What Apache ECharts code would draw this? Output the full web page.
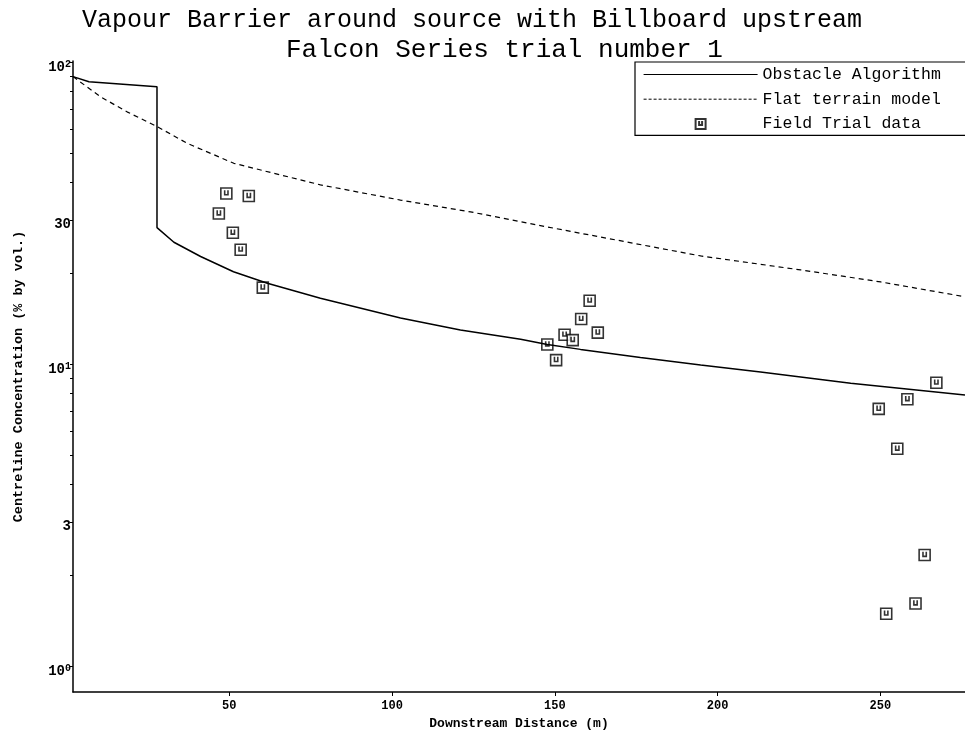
<!DOCTYPE html>
<html>
<head>
<meta charset="utf-8">
<script src="https://cdn.jsdelivr.net/npm/echarts@6/dist/echarts.min.js"></script>
<style>
html,body{margin:0;padding:0;background:#fff;}
#chart{width:965px;height:734px;}
</style>
</head>
<body>
<div id="chart"></div>
<script>
// Obstacle Algorithm (solid line)
const obstacleX = [2, 6.9, 27.8, 27.8, 33.0, 41.2, 51.3, 61.7, 78.0, 102.6, 121.0, 139.5, 147.7, 157.9, 176.3, 194.8, 213.2, 240.9, 276];
const obstacleY = [89.5, 86.0, 82.8, 28.3, 25.3, 22.7, 20.2, 18.5, 16.5, 14.2, 12.96, 12.07, 11.6, 11.18, 10.5, 9.92, 9.41, 8.63, 7.89];
// Flat terrain model (dashed line)
const flatX = [2, 10.4, 18.6, 27.9, 37.1, 51.4, 78.0, 102.6, 124.1, 150.2, 194.8, 225.5, 250.1, 276];
const flatY = [89.5, 76.8, 68.4, 61.1, 53.8, 46.2, 39.2, 34.9, 31.9, 28.1, 22.8, 20.5, 18.7, 16.7];
// Field Trial data (markers)
const fieldX = [49.1, 56.0, 46.8, 51.1, 53.5, 60.3, 160.7, 158.1, 153.0, 163.2, 155.5, 147.7, 150.4, 267.2, 258.3, 249.5, 255.2, 263.6, 260.8, 251.8];
const fieldY = [36.7, 36.0, 31.5, 27.2, 23.9, 17.9, 16.2, 14.1, 12.5, 12.7, 12.0, 11.6, 10.3, 8.67, 7.64, 7.10, 5.24, 2.33, 1.61, 1.49];
// Tick values
const xTicks = [50, 100, 150, 200, 250];
const yLabelTicks = [1, 3, 10, 30, 100];
const yMinorTicks = [1, 2, 3, 4, 5, 6, 7, 8, 9, 10, 20, 30, 40, 50, 60, 70, 80, 90, 100];

const FONT = "'Liberation Mono', 'DejaVu Sans Mono', monospace";
const zip = (a, b) => a.map((v, i) => [v, b[i]]);
const markerPath = 'path://M0,0L10,0L10,10L0,10Z M3.5,2L3.5,6.2L6.5,6.2L6.5,2';
const noDot = {color: 'transparent', borderColor: 'transparent', borderWidth: 0, opacity: 0};

const chart = echarts.init(document.getElementById('chart'), null, {renderer: 'canvas'});
chart.setOption({
  backgroundColor: '#fff',
  animation: false,
  title: [
    {text: 'Vapour Barrier around source with Billboard upstream', left: 82, top: 8, padding: 0,
     textStyle: {fontFamily: FONT, fontSize: 25, fontWeight: 'normal', color: '#000'}},
    {text: 'Falcon Series trial number 1', left: 286, top: 37, padding: 0,
     textStyle: {fontFamily: FONT, fontSize: 26, fontWeight: 'normal', color: '#000'}}
  ],
  legend: {
    orient: 'vertical', left: 635, top: 62,
    padding: [4, 40, 3, 8],
    itemWidth: 114, itemHeight: 10, itemGap: 7.7,
    backgroundColor: '#fff', borderColor: '#000', borderWidth: 1.2,
    textStyle: {fontFamily: FONT, fontSize: 16.5, color: '#000', lineHeight: 14},
    data: [
      {name: 'Obstacle Algorithm', itemStyle: noDot, lineStyle: {width: 1.2}},
      {name: 'Flat terrain model', itemStyle: noDot, lineStyle: {width: 1, type: [3, 2]}},
      {name: 'Field Trial data', icon: markerPath}
    ]
  },
  grid: {left: 73, right: 0, top: 61, bottom: 42, containLabel: false, outerBoundsMode: 'none'},
  xAxis: {
    type: 'value', min: 2, max: 276,
    name: 'Downstream Distance (m)', nameLocation: 'middle', nameGap: 24,
    nameTextStyle: {fontFamily: FONT, fontSize: 13, fontWeight: 'bold', color: '#000'},
    axisLine: {lineStyle: {color: '#000', width: 1.5}},
    axisTick: {show: true, inside: false, length: 4, lineStyle: {color: '#000'}, customValues: xTicks},
    axisLabel: {fontFamily: FONT, fontSize: 12, fontWeight: 'bold', color: '#000', margin: 8, customValues: xTicks},
    splitLine: {show: false}
  },
  yAxis: {
    type: 'log', logBase: 10, min: 0.82, max: 100.8,
    name: 'Centreline Concentration (% by vol.)', nameLocation: 'middle', nameGap: 47, nameRotate: 90,
    nameTextStyle: {fontFamily: FONT, fontSize: 13.5, fontWeight: 'bold', color: '#000'},
    axisLine: {show: true, lineStyle: {color: '#000', width: 1.5}},
    axisTick: {show: true, inside: false, length: 3, lineStyle: {color: '#000'}, customValues: yMinorTicks},
    axisLabel: {
      margin: 2, padding: [10, 0, 0, 0], customValues: yLabelTicks,
      formatter: function (v) {
        const r = Math.round(v);
        if (r === 100) return '{b|10}{s|2}';
        if (r === 10) return '{b|10}{s|1}';
        if (r === 1) return '{b|10}{s|0}';
        return '{b|' + r + '}';
      },
      rich: {
        b: {fontFamily: FONT, fontSize: 14, fontWeight: 'bold', color: '#000', lineHeight: 15},
        s: {fontFamily: FONT, fontSize: 10, fontWeight: 'bold', color: '#000', verticalAlign: 'top', lineHeight: 10}
      }
    },
    splitLine: {show: false}
  },
  series: [
    {name: 'Obstacle Algorithm', type: 'line', data: zip(obstacleX, obstacleY), symbol: 'none',
     lineStyle: {color: '#000', width: 1.5}, itemStyle: {color: '#000'}},
    {name: 'Flat terrain model', type: 'line', data: zip(flatX, flatY), symbol: 'none',
     lineStyle: {color: '#000', width: 1.2, type: [5, 4]}, itemStyle: {color: '#000'}},
    {name: 'Field Trial data', type: 'scatter', data: zip(fieldX, fieldY), symbol: markerPath, symbolSize: 11,
     itemStyle: {color: '#fff', borderColor: '#000', borderWidth: 1.6}}
  ]
});
</script>
</body>
</html>
